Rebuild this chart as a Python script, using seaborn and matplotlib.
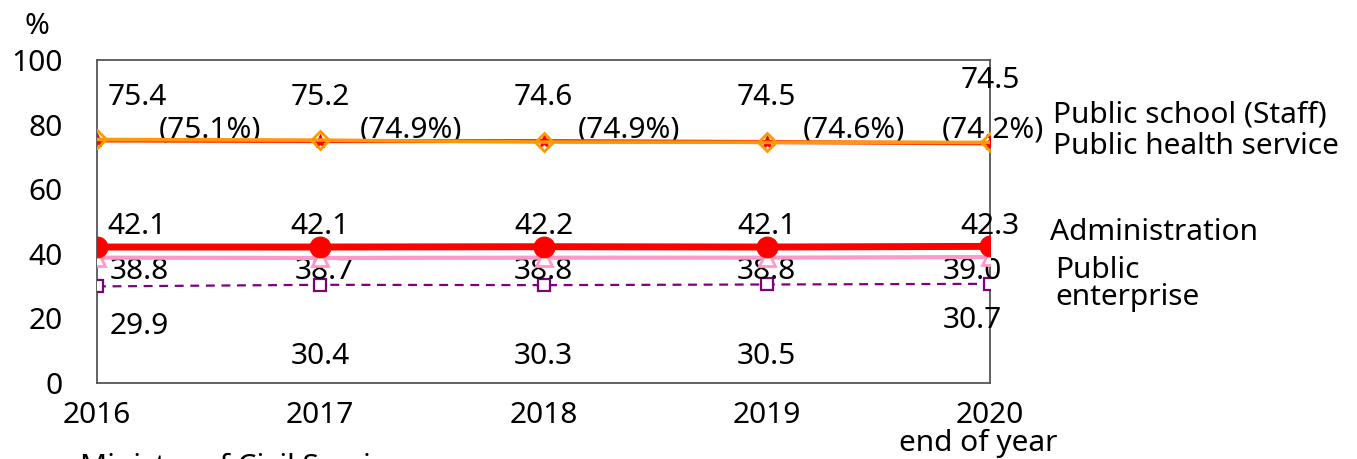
import matplotlib
matplotlib.use("Agg")
import matplotlib.pyplot as plt
import seaborn as sns

years = ["2016", "2017", "2018", "2019", "2020"]
public_school = [75.4, 75.2, 74.6, 74.5, 74.5]
public_health = [75.1, 74.9, 74.9, 74.6, 74.2]
administration = [42.1, 42.1, 42.2, 42.1, 42.3]
public_enterprise = [38.8, 38.7, 38.8, 38.8, 39.0]
other_series = [29.9, 30.4, 30.3, 30.5, 30.7]
yticks = [0, 20, 40, 60, 80, 100]

sns.set_style("white")
plt.rcParams['font.family'] = ['Noto Sans', 'DejaVu Sans']
plt.rcParams['text.color'] = 'black'

fig = plt.figure(figsize=(13.57, 4.59), dpi=100)
ax = fig.add_axes([97/1357, 76/459, 893/1357, 323/459])
x = list(range(len(years)))

FS = 21.5

sns.lineplot(x=x, y=other_series, ax=ax, color="#800080", lw=1.6, linestyle=(0, (4, 3)),
             marker="s", markersize=9, markerfacecolor="white", markeredgecolor="#800080",
             markeredgewidth=1.6, zorder=3)
sns.lineplot(x=x, y=public_enterprise, ax=ax, color="#FF99CC", lw=3,
             marker="^", markersize=11, markerfacecolor="white", markeredgecolor="#FF99CC",
             markeredgewidth=2, zorder=4)
sns.lineplot(x=x, y=administration, ax=ax, color="#FF0000", lw=5,
             marker="o", markersize=15, markerfacecolor="#FF0000", markeredgecolor="#FF0000",
             zorder=5)
sns.lineplot(x=x, y=public_health, ax=ax, color="#FF3300", lw=3,
             marker="*", markersize=10, markerfacecolor="#FF0000", markeredgecolor="#FF0000",
             zorder=6)
sns.lineplot(x=x, y=public_school, ax=ax, color="#FF9900", lw=2.5,
             marker="D", markersize=9, markerfacecolor="none", markeredgecolor="#FF9900",
             markeredgewidth=2, zorder=7)

ax.set_xlim(0, 4)
ax.set_ylim(0, 100)
ax.set_yticks(yticks)
ax.set_yticklabels([str(v) for v in yticks])
ax.set_xticks(x)
ax.set_xticklabels(years)
ax.tick_params(axis="both", direction="in", length=7, width=1, labelsize=FS, colors="#333333",
               labelcolor="black")
ax.tick_params(axis="y", pad=25)
ax.tick_params(axis="x", pad=13)
for s in ax.spines.values():
    s.set_color("#555555")
    s.set_linewidth(1.3)
ax.set_xlabel("")
ax.set_ylabel("")

# value labels
xo_top = [0.18, 0, 0, 0, 0]
yo_top = [88.5, 88.5, 88.5, 88.5, 93.8]
for i, v in enumerate(public_school):
    ax.text(i + xo_top[i], yo_top[i], f"{v:.1f}", ha="center", va="center", fontsize=FS)
xo_par = [0.506, 0.406, 0.383, 0.391, 0.013]
for i, v in enumerate(public_health):
    ax.text(i + xo_par[i], 78.3, f"({v:.1f}%)", ha="center", va="center", fontsize=FS)
for i, v in enumerate(administration):
    ax.text(i + xo_top[i], 48.6, f"{v:.1f}", ha="center", va="center", fontsize=FS)
xo_pe = [0.19, 0.02, 0, 0, -0.08]
for i, v in enumerate(public_enterprise):
    ax.text(i + xo_pe[i], 34.6, f"{v:.1f}", ha="center", va="center", fontsize=FS)
xo_o = [0.19, 0, 0, 0, -0.08]
yo_o = [17.6, 8.3, 8.3, 8.3, 19.3]
for i, v in enumerate(other_series):
    ax.text(i + xo_o[i], yo_o[i], f"{v:.1f}", ha="center", va="center", fontsize=FS)

# series names on the right
def ftext(px, py, s, **kw):
    fig.text(px/1357, 1 - py/459, s, fontsize=FS, va="center", **kw)

ftext(1053, 115, "Public school (Staff)")
ftext(1053, 147, "Public health service")
ftext(1050, 232, "Administration")
ftext(1055, 270, "Public")
ftext(1055, 297, "enterprise")
ftext(37, 27, "%", ha="center")
ftext(978, 443, "end of year", ha="center")
ftext(80, 467, "Ministry of Civil Service", ha="left")

fig.savefig("out.png", dpi=100)
